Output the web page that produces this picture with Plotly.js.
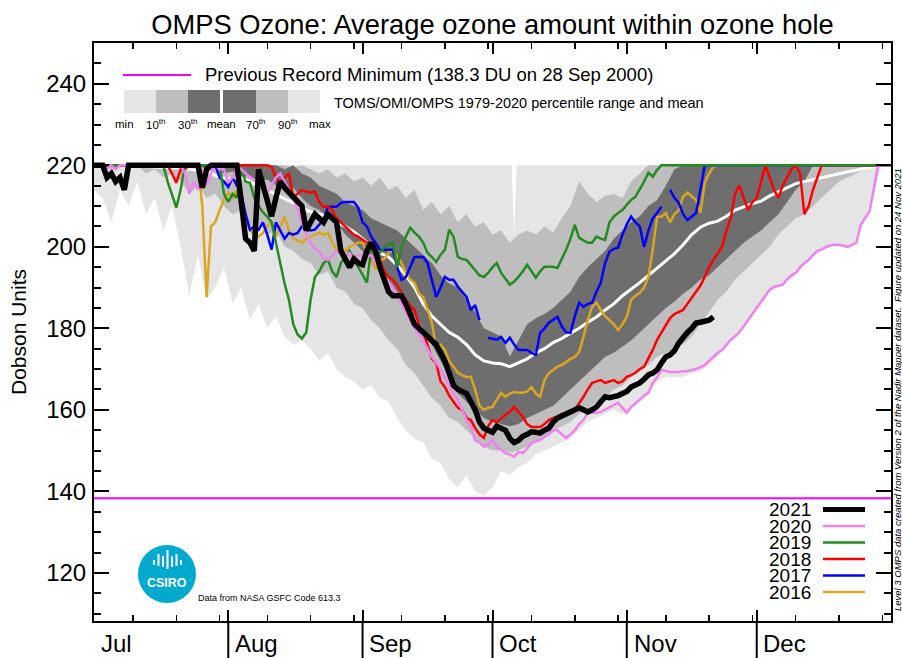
<!DOCTYPE html>
<html><head><meta charset="utf-8">
<script src="https://cdn.plot.ly/plotly-3.0.1.min.js"></script>
<style>html,body{margin:0;padding:0;background:#fff}#chart{width:902px;height:658px}</style>
</head><body><div id="chart"></div>
<script>
// ---------- axis labels ----------
const monthNames = ['Jul','Aug','Sep','Oct','Nov','Dec'];
const monthStarts = [0,31,62,92,123,153,184];          // days since 1 Jul
const minorTicks = [9,19,29,40,50,60,71,81,91,101,111,121,132,142,152,162,172,182];
const recordMin = 138.3;

// ---------- 1979-2020 climatology (every 2 days) ----------
const climDays = [0,2,4,6,8,10,12,14,16,18,20,22,24,26,28,30,32,34,36,38,40,42,44,46,48,50,52,54,56,58,60,62,64,66,68,70,72,74,76,78,80,82,84,86,88,90,92,94,96,98,100,102,104,106,108,110,112,114,116,118,120,122,124,126,128,130,132,134,136,138,140,142,144,146,148,150,152,154,156,158,160,162,164,166,168,170,172,174,176,178,180,182,184];
const climMin = [214,212,206,214,210,216,208,212,204,210,
 200,188,198,187,190,195,186,190,182,186,
 180,183,178,176,177,175,172,174,170,168,
 167,165,166,163,162,158,155,153,152,148,
 147,143,141,144,140,139,141,145,144,146,
 147,149,150,151,152,153,155,157,158,159,
 160,159,160,162,164,167,168,168,168,169,
 169.5,171,173,176,178,180,183,186,189,190,
 191.5,193,195.5,197.5,199,200,200.5,200,201,207,
 214,220,220];
const climP10 = [220,220,219,220,219,220,218,219,217,218,
 216,213,215,212,213,210,208,209,205,206,
 203,204,200,199,197,196,193,194,190,189,
 186,185,182,180,177,175,171,169,166,163,
 161,158,157,155,153,151,150,150,149.5,150,
 151,152,153,155,156,157,159,160,162,163,
 165,166,168,170,171,173,174,175,176,178,
 181,184,187,189,192,194,196,198,200,203,
 205,207,208,210,212,214,216,217,218,219,
 220,220,220];
const climP30 = [220,220,220,220,220,220,220,220,220,220,
 220,220,220,219,219.5,218,218.5,217,217.5,216,
 216.5,215,214,214.5,212,210,209,207,206,203,
 201,199,197,195,192,189,186,183,180,176,
 172,168,164,162,160,158,157,156.5,156,156.5,
 158,159,160,161,163,165,167,169,171,173,
 174,175.5,177,179,181,183,185,186.5,188.5,190,
 192,193,195,197,199,201,202.5,204,206,208,
 211,214,216,220,220,220,220,220,220,220,
 220,220,220];
const climMean = [220,220,219.9,219.9,219.8,219.8,219.7,219.6,219.5,219.4,
 219.3,219,218.8,218.5,217.5,216.8,216.7,217,216,215,
 214,213,211.8,210.8,209.5,208.6,208,207.5,206,205,
 203.7,202,200,198.5,197.5,195.5,193,190,186,183,
 181,179,177.8,176,173.5,172,171.5,171.3,170.6,171.5,
 172.5,174,175,176.5,177.5,178.8,180,181.5,182.8,184.5,
 186,188,189.5,191.2,193,194.8,196.5,198.3,200.5,203,
 204.8,205.8,206.3,207.5,209,209.8,210.6,211.2,212.5,213.5,
 214.5,215.5,216,216.5,217,217.4,218,218.4,218.8,219.3,
 219.6,219.8,220];
const climP70 = [220,220,220,220,220,220,220,220,220,220,
 220,220,220,220,220,220,220,220,220,220,
 220,220,219,220,218,217,215,214,213,211,
 210,209,207,206,205,204,202,200,198,196,
 193,191,190,187,184,180,179,178,173,177,
 181,182.5,183.5,185,187,189,192.6,195,197,199,
 202,204,206,207.5,210,211.5,215,219,220,220,
 220,220,220,220,220,220,220,220,220,220,
 220,220,220,220,220,220,220,220,220,220,
 220,220,220];
const climP90 = [220,220,220,220,220,220,220,220,220,220,
 220,220,220,220,220,220,220,220,220,220,
 220,220,220,219.5,220,219,218,219,217,218,
 216,217,215,217,214,215,212,214,209,211,
 208,210,206,208,205,206,203,204,201,203,
 204,203,205,203.5,207,210,216,213,211,212.5,
 213,212,216,218,220,220,220,220,220,220,
 220,220,220,220,220,220,220,220,220,220,
 220,220,220,220,220,220,220,220,220,220,
 220,220,220];
const climMaxDays = [0,96.4,97,97.6,184];
const climMax = [220,220,203,220,220];

// ---------- individual years: [day since 1 Jul, DU] ----------
const ozone2021 = [[0,220],[2,220],[3,217],[4,218],[5,216],[6,217],[7,214],[8,220],[24,220],[25,214.5],[26,219],[27,220],[33,220],
[34,210],[35,202],[36,201],[37,199],[38,219],[39,215],[40,211],[41,207.5],[42,212],[43,216],[44,214.5],[45,213.3],[46,212],[47,211],[48,210],[49,204],[50,206],[51,208],[52,207],[53,206],[54,208],[55,207],[56,206],[57,199],[58,197],[59,195],[60,197],[61,196],[62,195.6],[63,199],[64,201],[65,199],[66,195],[67,192],[68,189],[69,188],[70,188],[71,188],[72,186],[73,183],[74,181],[75,180],[76,179],[77,178],[78,177],[79,176],[80,174],[81,172],[82,169],[83,166],[84,165],[85,164.5],[86,164],[87,162],[88,160],[89,157],[90,155.5],[91,155],[92,154.5],[93,156],[94,155.5],[95,155],[96,153],[97,152],[98,152.5],[99,153.5],[100,154],[101,154.6],[102,154.5],[103,154.3],[104,155],[105,155.5],[106,157],[107,158],[108,158.5],[109,159],[110,159.5],[111,160],[112,160.5],[113,160],[114,159.5],[115,160],[116,160.7],[117,162],[118,163.2],[119,163],[120,163.2],[121,163.5],[122,164],[123,164.5],[124,165.6],[125,166],[126,166.6],[127,167.5],[128,168.6],[129,169],[130,169.8],[131,171.5],[132,173],[133,173.5],[134,174.5],[135,176.4],[136,178],[137,179],[138,180],[139,181.3],[140,181.5],[141,181.6],[142,182],[143,182.8]];
const ozone2020 = [[0,220],[2,220],[3,219],[4,220],[5,219],[6,220],[20,220],[21,218],[22,213],[23,216],[24,214],[25,219],[26,215],[27,218],[28,220],[29,219],[30,219],[31,215.7],[32,217],[33,219.6],[34,219],[35,218],[36,217],[37,216.4],[38,216],[39,214],[40,213.3],[41,215],[42,217],[43,218],[44,216],[45,214],[46,212],[47,209],[48,206],[49,203],[50,201],[51,199.5],[52,199],[53,197],[54,196.8],[55,198],[56,199],[57,198.5],[58,198],[59,198.5],[60,197],[61,198],[62,197.5],[63,197.5],[64,198],[65,196],[66,195],[67,193],[68,191],[69,190],[70,188],[71,186],[72,184],[73,182],[74,180],[75,178.5],[76,177],[77,175],[78,173],[79,171.5],[80,170],[81,168],[82,166],[83,164],[84,162.5],[85,160],[86,157.5],[87,155.8],[88,152.5],[89,152],[90,151],[91,151.5],[92,152.6],[93,151],[94,150.2],[95,149.4],[96,149],[97,148.5],[98,149.7],[99,149.4],[100,150.5],[101,151.9],[102,152.3],[103,152.6],[104,153.4],[105,154],[106,155],[107,155],[108,154],[109,153.1],[110,154],[111,155],[112,156.5],[113,157.5],[114,159.3],[115,159.3],[116,159.3],[117,159.5],[118,160],[119,160.5],[120,161.2],[121,161.7],[122,160.5],[123,159.3],[124,160.7],[125,161.5],[126,162.5],[127,163.5],[128,164.2],[129,166.6],[130,168],[131,169.8],[132,169.5],[133,169.3],[134,169.3],[135,169.3],[136,169.5],[137,169.5],[138,169.8],[139,170],[140,170.5],[141,171],[142,172],[143,173],[144,174],[145,174.7],[146,176],[147,177.2],[148,178],[149,179.1],[150,180.5],[151,182],[152,183.5],[153,185],[154,186.5],[155,188],[156,189.5],[157,190.2],[158,190.5],[159,190.7],[160,192],[161,193],[162,193.6],[163,195],[164,196],[165,196.8],[166,198],[167,199],[168,199.3],[169,200],[170,200.3],[171,200.5],[172,200.5],[173,200.2],[174,200],[175,200.5],[176,201],[177,205.4],[178,207],[179,208.6],[180,214],[181,220],[184,220]];
const ozone2019 = [[0,220],[16,220],[17,216],[18,213],[19,209.6],[20,214],[21,220],[29,220],[30,213],[31,211],[32,213],[33,212],[34,219],[35,216],[36,215.7],[37,212],[38,210],[39,208.5],[40,207.4],[41,206],[42,201],[43,196],[44,191],[45,187],[46,181],[47,178.5],[48,177.5],[49,179],[50,187],[51,192.6],[52,194],[53,196],[54,196.8],[55,194],[56,192.6],[57,196],[58,197.5],[59,199],[60,197],[61,195],[62,193],[63,191.2],[64,199.3],[65,198.5],[66,198.5],[67,200],[68,200.5],[69,201],[70,195],[71,200],[72,202.5],[73,204.7],[74,203.5],[75,202.5],[76,201],[77,198.5],[78,197.5],[79,196.3],[80,198],[81,199.3],[82,204.2],[83,202.5],[84,197.5],[85,197],[86,196.8],[87,195.5],[88,194.4],[89,193],[90,192.6],[91,193.6],[92,195],[93,196],[94,193.6],[95,192],[96,190.7],[97,191.5],[98,192.6],[99,194],[100,195.6],[101,194],[102,192.4],[103,194],[104,195.1],[105,195.1],[106,195.1],[107,194.8],[108,197],[109,199.3],[110,202],[111,205.4],[112,202.2],[113,201.5],[114,201],[115,201],[116,202.5],[117,202],[118,201.7],[119,206],[120,207.4],[121,208.3],[122,209],[123,210.3],[124,211.5],[125,212.3],[126,214],[127,216],[128,218.2],[129,217.2],[130,218.9],[131,220],[184,220]];
const ozone2018 = [[0,220],[17,220],[18,218],[19,215.7],[20,219],[21,219],[22,220],[40,220],[41,219.6],[42,217],[43,215.7],[44,217],[45,218],[46,212.3],[47,213],[48,214],[49,213.5],[50,213.3],[51,213.5],[52,211],[53,209.8],[54,209.8],[55,209],[56,207],[57,206],[58,205],[59,204.2],[60,203],[61,202.5],[62,201.7],[63,201],[64,200.5],[65,200],[66,196.8],[67,194],[68,192.6],[69,191.9],[70,190.5],[71,188.7],[72,187],[73,185.5],[74,184.5],[75,181],[76,178.9],[77,176],[78,172.5],[79,171.5],[80,167],[81,165.6],[82,163.5],[83,162],[84,160.5],[85,160],[86,158],[87,157.5],[88,155.5],[89,154],[90,153.1],[91,156],[92,157.5],[93,157],[94,158],[95,158.8],[96,159.5],[97,160.7],[98,159.5],[99,158.3],[100,156.5],[101,155.8],[102,155.8],[103,155.8],[104,156.5],[105,157.5],[106,158],[107,158.3],[108,159],[109,159.3],[110,159.5],[111,160],[112,161.5],[113,163.2],[114,165],[115,166.6],[116,167],[117,167.3],[118,166.6],[119,167],[120,167.3],[121,166.6],[122,167],[123,168.1],[124,168.5],[125,169.1],[126,170],[127,170.6],[128,172.5],[129,174.7],[130,177.2],[131,179],[132,181],[133,182.5],[134,183.5],[135,184],[136,184.5],[137,186],[138,187.5],[139,188.7],[140,190.5],[141,192.6],[142,195],[143,196.8],[144,198.5],[145,200],[146,204],[147,207],[148,213],[149,215],[150,212],[151,209],[152,211],[153,212],[154,216],[155,220],[156,217],[157,214],[158,212],[159,215],[160,217],[161,219],[162,220],[163,218],[164,208],[165,210],[166,214],[167,217],[168,220],[184,220]];
const ozone2017 = [[0,220],[28,220],[29,217],[30,216],[31,214.7],[32,217],[33,215],[34,213],[35,208],[36,204.2],[37,205],[38,204.2],[39,206],[40,203],[41,199.3],[42,206],[43,204],[44,202],[45,203.4],[46,203],[47,203.4],[48,205],[49,204.5],[50,204],[51,204.2],[52,205.5],[53,206.6],[54,209.8],[55,209.8],[56,209.8],[57,210.8],[58,211],[59,211],[60,211],[61,209.6],[62,206],[63,205],[64,202.5],[65,201],[66,199.3],[67,199.3],[68,199.3],[69,199.3],[70,195],[71,191.9],[72,192.6],[73,195],[74,197.5],[75,197.5],[76,197.5],[77,196],[78,192],[79,187.7],[80,190],[81,192.6],[82,191.9],[83,191.9],[84,190.2],[85,189],[86,187.7],[87,184.5],[88,185.7],[89,182],[90,null],[91,177.7],[92,177.5],[93,177.2],[94,177.9],[95,176.4],[96,177.7],[97,176],[98,174.7],[99,174.7],[100,174.7],[101,174],[102,173.5],[103,178.9],[104,180],[105,181.4],[106,182],[107,182.8],[108,180.5],[109,179],[110,178.9],[111,183],[112,186.3],[113,185.3],[114,186],[115,186.3],[116,189],[117,191.2],[118,196],[119,198.8],[120,199.5],[121,199.8],[122,203],[123,205.5],[124,207.4],[125,206],[126,205],[127,200],[128,204],[129,207],[130,208.3],[131,209.8],[132,null],[133,214],[134,212],[135,210.8],[136,208],[137,206.6],[138,207.5],[139,208.3],[140,214],[141,220],[184,220]];
const ozone2016 = [[0,220],[24,220],[25,210],[26,187.7],[27,205],[28,206],[29,209],[30,211.5],[31,213.3],[32,212],[33,214],[34,210],[35,206],[36,204.2],[37,203],[38,202.5],[39,203.4],[40,205],[41,206],[42,202.5],[43,205],[44,207.4],[45,204],[46,202],[47,201.5],[48,201],[49,202],[50,202.5],[51,203],[52,203.5],[53,203],[54,203.4],[55,201],[56,199.3],[57,198.5],[58,199],[59,200],[60,200.5],[61,201],[62,201],[63,198.5],[64,196.8],[65,194.4],[66,196.8],[67,197],[68,198.5],[69,199.3],[70,197.5],[71,196],[72,193.6],[73,192],[74,191.2],[75,188.5],[76,187.7],[77,184.5],[78,181.4],[79,175],[80,176],[81,174.7],[82,172],[83,170.6],[84,169.1],[85,168.5],[86,168],[87,168.1],[88,164.9],[89,161],[90,160],[91,160.5],[92,160.7],[93,162.5],[94,164.2],[95,163.2],[96,164],[97,164.4],[98,164.2],[99,164.2],[100,164.5],[101,165.6],[102,164],[103,163.2],[104,167.3],[105,169],[106,169.8],[107,170.6],[108,171],[109,171.8],[110,172.5],[111,173],[112,174.2],[113,177.9],[114,182],[115,185.3],[116,186.3],[117,184.5],[118,183],[119,182],[120,181],[121,179.6],[122,181],[123,182.8],[124,187],[125,188],[126,188.7],[127,190],[128,192.6],[129,199.3],[130,207.4],[131,207.4],[132,208.3],[133,206],[134,208],[135,209],[136,212.3],[137,213.3],[138,212.5],[139,211.5],[140,208.3],[141,215.7],[142,218],[143,219.6],[144,220],[184,220]];

const yearNames = ['2021','2020','2019','2018','2017','2016'];
const yearData = [ozone2021, ozone2020, ozone2019, ozone2018, ozone2017, ozone2016];
const yearColors = ['#000000','#ee82ee','#228b22','#ff0000','#0000ff','#daa520'];
const yearWidths = [5.5,2.5,2.5,2.5,2.5,2.5];

const LIGHT = '#e5e5e5', MID = '#bebebe', DARK = '#6e6e6e';
const FONT = 'Liberation Sans, Arial, Helvetica, sans-serif';

// ---------- traces ----------
const traces = [];
function band(loX, lo, hiX, hi, color) {
  traces.push({x: loX, y: lo, type: 'scatter', mode: 'lines', line: {width: 0, color: color}, hoverinfo: 'skip', showlegend: false});
  traces.push({x: hiX, y: hi, type: 'scatter', mode: 'lines', line: {width: 0, color: color}, fill: 'tonexty', fillcolor: color, hoverinfo: 'skip', showlegend: false});
}
band(climDays, climMin, climMaxDays, climMax, LIGHT);
band(climDays, climP10, climDays, climP90, MID);
band(climDays, climP30, climDays, climP70, DARK);
traces.push({x: climDays, y: climMean, type: 'scatter', mode: 'lines', line: {color: '#ffffff', width: 3}, showlegend: false});
for (let i = yearData.length - 1; i >= 0; i--) {
  traces.push({x: yearData[i].map(p => p[0]), y: yearData[i].map(p => p[1]), type: 'scatter', mode: 'lines',
    line: {color: yearColors[i], width: yearWidths[i]}, connectgaps: false, name: yearNames[i], showlegend: false});
}
traces.push({x: [monthStarts[0], monthStarts[monthStarts.length - 1]], y: [recordMin, recordMin], type: 'scatter', mode: 'lines',
  line: {color: '#ff00ff', width: 2}, showlegend: false});
// carrier for the minor-tick axis (draws nothing)
traces.push({x: [monthStarts[0], monthStarts[monthStarts.length - 1]], y: [null, null], xaxis: 'x2', yaxis: 'y', type: 'scatter', mode: 'lines', showlegend: false, hoverinfo: 'skip'});

// ---------- decorations (paper coordinates from pixel positions) ----------
const L = 94, R = 891, T = 43, B = 621;
const px = x => (x - L) / (R - L);
const py = y => (B - y) / (B - T);

const shapes = [];
const annotations = [];
// month separators below the axis
monthStarts.slice(1, -1).forEach(m => shapes.push({type: 'line', xref: 'x', yref: 'paper', x0: m, x1: m, y0: 0, y1: -0.07, line: {color: '#000', width: 2}}));
monthNames.forEach((n, i) => annotations.push({x: monthStarts[i] + 1.1, y: -0.012, xref: 'x', yref: 'paper', xanchor: 'left', yanchor: 'top',
  text: n, showarrow: false, font: {family: FONT, size: 24, color: '#000'}}));

// top key: record minimum
shapes.push({type: 'line', xref: 'paper', yref: 'paper', x0: px(123), x1: px(191), y0: py(75), y1: py(75), line: {color: '#ff00ff', width: 2}});
annotations.push({x: px(203), y: py(75), xref: 'paper', yref: 'paper', xanchor: 'left', yanchor: 'middle', showarrow: false,
  text: 'Previous Record Minimum (' + recordMin + ' DU on 28 Sep 2000)', font: {family: FONT, size: 18.5, color: '#000'}});
// percentile key
const keyEdges = [[124,156,LIGHT],[156,188,MID],[188,220,DARK],[223,256,DARK],[256,288,MID],[288,320,LIGHT]];
keyEdges.forEach(k => shapes.push({type: 'rect', xref: 'paper', yref: 'paper', x0: px(k[0]), x1: px(k[1]), y0: py(113), y1: py(90), fillcolor: k[2], line: {width: 0}}));
const keyLabels = [['min',124],['10<sup>th</sup>',156],['30<sup>th</sup>',188],['mean',221.5],['70<sup>th</sup>',256],['90<sup>th</sup>',288],['max',320]];
keyLabels.forEach(k => annotations.push({x: px(k[1]), y: py(124), xref: 'paper', yref: 'paper', xanchor: 'center', yanchor: 'middle', showarrow: false,
  text: k[0], font: {family: FONT, size: 11.5, color: '#000'}}));
annotations.push({x: px(332), y: py(103), xref: 'paper', yref: 'paper', xanchor: 'left', yanchor: 'middle', showarrow: false,
  text: 'TOMS/OMI/OMPS 1979-2020 percentile range and mean', font: {family: FONT, size: 14.5, color: '#000'}});

// year legend (bottom right)
const legY = [509.5, 526, 542.5, 559, 575.5, 592];
yearNames.forEach((n, i) => {
  annotations.push({x: px(813), y: py(legY[i]), xref: 'paper', yref: 'paper', xanchor: 'right', yanchor: 'middle', showarrow: false,
    text: n, font: {family: FONT, size: 19, color: '#000'}, height: 15, valign: 'middle'});
  shapes.push({type: 'line', xref: 'paper', yref: 'paper', x0: px(823), x1: px(865), y0: py(legY[i]), y1: py(legY[i]),
    line: {color: yearColors[i], width: i === 0 ? 5 : 2.5}});
});

// CSIRO logo
shapes.push({type: 'circle', xref: 'paper', yref: 'paper', x0: px(138), x1: px(196), y0: py(603), y1: py(545), fillcolor: '#00a9ce', line: {width: 0}});
[[154,560,565],[158.5,554,566],[163,556,567],[167.5,550,569],[172,556,567],[176.5,554,566],[181,560,565]].forEach(b =>
  shapes.push({type: 'line', xref: 'paper', yref: 'paper', x0: px(b[0]), x1: px(b[0]), y0: py(b[2]), y1: py(b[1]), line: {color: '#fff', width: 2}}));
annotations.push({x: px(167), y: py(583), xref: 'paper', yref: 'paper', xanchor: 'center', yanchor: 'middle', showarrow: false,
  text: '<b>CSIRO</b>', font: {family: FONT, size: 12.5, color: '#fff'}});
annotations.push({x: px(196), y: py(598), xref: 'paper', yref: 'paper', xanchor: 'left', yanchor: 'middle', showarrow: false,
  text: 'Data from NASA GSFC Code 613.3', font: {family: FONT, size: 9, color: '#000'}});
// side note
annotations.push({x: px(897), y: py(390), xref: 'paper', yref: 'paper', xanchor: 'center', yanchor: 'middle', showarrow: false, textangle: -90,
  text: '<i>Level 3 OMPS data created from Version 2 of the Nadir Mapper dataset.  Figure updated on 24 Nov 2021</i>',
  font: {family: FONT, size: 9.5, color: '#000'}});

const layout = {
  width: 902, height: 658,
  margin: {l: L, r: 902 - R, t: T, b: 658 - B, pad: 0},
  paper_bgcolor: '#fff', plot_bgcolor: '#fff',
  font: {family: FONT, color: '#000'},
  showlegend: false, hovermode: false,
  title: {text: 'OMPS Ozone: Average ozone amount within ozone hole', font: {family: FONT, size: 27.3, color: '#000'},
    x: 0.5, xref: 'paper', xanchor: 'center', y: 0.963, yref: 'container', yanchor: 'middle'},
  xaxis: {range: [0, 184], showgrid: false, zeroline: false, showline: true, linecolor: '#000', linewidth: 2, mirror: 'ticks',
    tickmode: 'array', tickvals: monthStarts, ticks: 'inside', ticklen: 11, tickwidth: 2, tickcolor: '#000', showticklabels: false},
  xaxis2: {overlaying: 'x', anchor: 'y', side: 'bottom', range: [0, 184], showgrid: false, zeroline: false, showline: false, mirror: 'ticks',
    tickmode: 'array', tickvals: minorTicks, ticks: 'inside', ticklen: 6, tickwidth: 1.5, tickcolor: '#000', showticklabels: false},
  yaxis: {range: [108.2, 250], showgrid: false, zeroline: false, showline: true, linecolor: '#000', linewidth: 2, mirror: 'ticks',
    tickmode: 'linear', tick0: 0, dtick: 20, ticks: 'inside', ticklen: 15, tickwidth: 2, tickcolor: '#000',
    tickfont: {family: FONT, size: 24, color: '#000'}, ticklabelstandoff: 1,
    minor: {dtick: 5, tick0: 0, ticks: 'inside', ticklen: 7, tickwidth: 2, tickcolor: '#000', showgrid: false},
    title: {text: 'Dobson Units', font: {family: FONT, size: 21, color: '#000'}, standoff: 14}},
  shapes: shapes, annotations: annotations
};
Plotly.newPlot('chart', traces, layout, {staticPlot: true, displayModeBar: false});
</script>
</body></html>
